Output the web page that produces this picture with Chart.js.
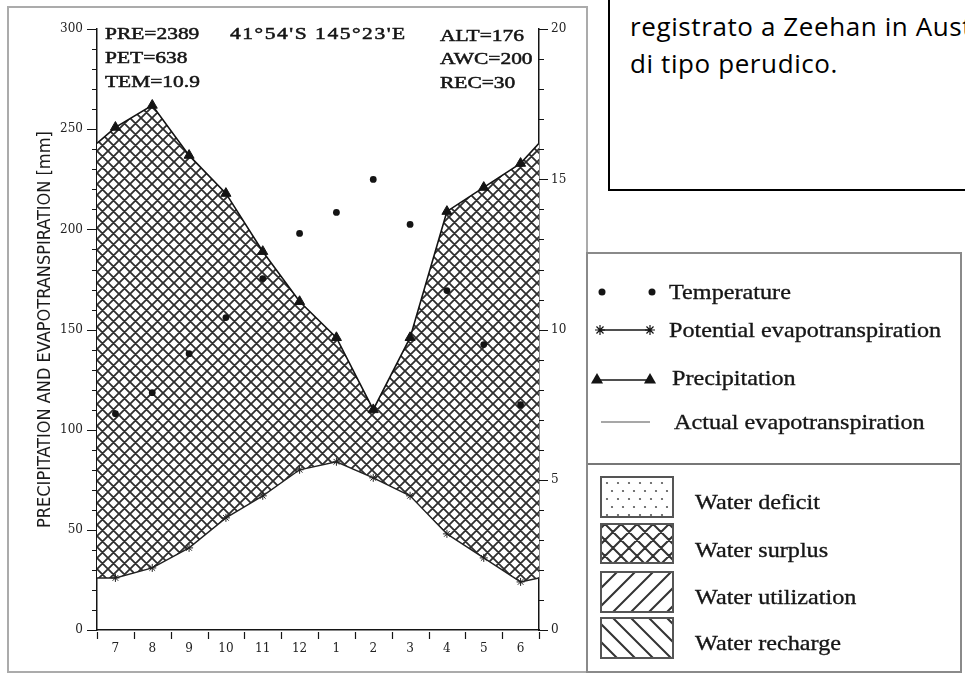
<!DOCTYPE html>
<html lang="it">
<head>
<meta charset="utf-8">
<title>Zeehan – diagramma climatico</title>
<script src="https://cdn.jsdelivr.net/npm/chart.js@4.4.1/dist/chart.umd.min.js"></script>
<style>
  html, body { margin: 0; padding: 0; }
  body { width: 965px; height: 674px; position: relative; overflow: hidden; background: #fff; }
  .frame { position: absolute; left: 7px; top: 6px; width: 581px; height: 667px; box-sizing: border-box; border: 2px solid #ababab; }
  #chartBox { position: absolute; left: 9px; top: 8px; width: 577px; height: 663px; }
  #chart { filter: blur(0.35px); }
  .note { position: absolute; height: 20px; line-height: 20px; white-space: nowrap;
          font-family: "Liberation Serif", "Times New Roman", serif; font-size: 16.5px; color: #151515;
          -webkit-text-stroke: 0.5px #151515; transform-origin: 0 50%; transform: scaleX(1.3); }
  .textbox { position: absolute; left: 608px; top: -20px; width: 420px; height: 211px; box-sizing: border-box; border: 2px solid #000; }
  .tline { position: absolute; left: 630px; height: 40px; line-height: 40px; white-space: nowrap;
           font-family: "Open Sans", "Noto Sans", sans-serif; font-size: 26px; letter-spacing: 0.6px; color: #000; }
  .legend { position: absolute; left: 586px; top: 252px; width: 376px; height: 421px; box-sizing: border-box; border: 2px solid #8a8a8a; background: #fff; }
  .divider { position: absolute; left: 588px; top: 463px; width: 372px; height: 2px; background: #777; }
  #legendArt { position: absolute; left: 588px; top: 254px; filter: blur(0.3px); }
  .lg { position: absolute; height: 30px; line-height: 30px; white-space: nowrap;
        font-family: "Liberation Serif", "Times New Roman", serif; font-size: 22px; color: #161616;
        -webkit-text-stroke: 0.35px #161616; transform-origin: 0 50%; transform: scaleX(1.1); }
</style>
</head>
<body>
<div class="frame"></div>
<div id="chartBox"><canvas id="chart" width="577" height="663"></canvas></div>

<div class="note" style="left:105px; top:24px;">PRE=2389</div>
<div class="note" style="left:105px; top:48px;">PET=638</div>
<div class="note" style="left:105px; top:72px;">TEM=10.9</div>
<div class="note" style="left:230px; top:24px; letter-spacing:1.2px;">41°54'S 145°23'E</div>
<div class="note" style="left:440px; top:26px;">ALT=176</div>
<div class="note" style="left:440px; top:49px;">AWC=200</div>
<div class="note" style="left:440px; top:73px;">REC=30</div>

<div class="textbox"></div>
<div class="tline" style="top:6px;">registrato a Zeehan in Australia</div>
<div class="tline" style="top:43px;">di tipo perudico.</div>

<div class="legend"></div>
<div class="divider"></div>
<canvas id="legendArt" width="372" height="417"></canvas>
<div class="lg" style="left:669px; top:277px;">Temperature</div>
<div class="lg" style="left:669px; top:315px;">Potential evapotranspiration</div>
<div class="lg" style="left:672px; top:363px;">Precipitation</div>
<div class="lg" style="left:674px; top:407px;">Actual evapotranspiration</div>
<div class="lg" style="left:695px; top:487px;">Water deficit</div>
<div class="lg" style="left:695px; top:535px;">Water surplus</div>
<div class="lg" style="left:695px; top:582px;">Water utilization</div>
<div class="lg" style="left:695px; top:628px;">Water recharge</div>

<script>
// Monthly climate record, July to June (southern-hemisphere year)
const months = ['7', '8', '9', '10', '11', '12', '1', '2', '3', '4', '5', '6'];
const precipitation = [251, 262, 237, 218, 189, 164, 146, 110, 146, 209, 221, 233];   // mm
const potentialEvapo = [26, 31, 41, 56, 67, 80, 84, 76, 67, 48, 36, 24];              // mm
const temperature = [7.2, 7.9, 9.2, 10.4, 11.7, 13.2, 13.9, 15.0, 13.5, 11.3, 9.5, 7.5]; // °C
// values where the June→July segment crosses the left and right frame
const precipitationAtEdge = 243;
const potentialEvapoAtEdge = 26;
// labelled ticks
const mmTickLabels = [0, 50, 100, 150, 200, 250, 300];
const tempTickLabels = [0, 5, 10, 15, 20];

const INK = '#141414';
const SERIF_TICKS = '"DejaVu Serif", "Liberation Serif", serif';

function crossHatchTile(period, width, color) {
  const c = document.createElement('canvas');
  c.width = c.height = period;
  const g = c.getContext('2d');
  g.fillStyle = '#fff';
  g.fillRect(0, 0, period, period);
  g.strokeStyle = color;
  g.lineWidth = width;
  g.beginPath();
  for (let k = -1; k <= 1; k++) {
    g.moveTo(k * period, 0); g.lineTo(k * period + period, period);
    g.moveTo(k * period + period, 0); g.lineTo(k * period, period);
  }
  g.stroke();
  return c;
}

const firstX = 0.5, lastX = months.length + 0.5;
function monthSeries(values) { return values.map((v, i) => ({ x: i + 1, y: v })); }
function wrapped(values, edge) {
  return [{ x: firstX, y: edge }, ...monthSeries(values), { x: lastX, y: edge }];
}
const isEdge = c => c.raw && (c.raw.x === firstX || c.raw.x === lastX);

// short tick marks: long ones at labelled values, short ones between
const axisTicks = {
  id: 'axisTicks',
  afterDraw(chart) {
    const { ctx, chartArea: { left, right, bottom } } = chart;
    const { x, y, yT } = chart.scales;
    ctx.save();
    ctx.strokeStyle = INK;
    ctx.lineWidth = 1.2;
    ctx.beginPath();
    y.ticks.forEach(t => {
      const py = Math.round(y.getPixelForValue(t.value)) + 0.5;
      const len = mmTickLabels.includes(t.value) ? 10 : 5;
      ctx.moveTo(left - len, py); ctx.lineTo(left, py);
    });
    yT.ticks.forEach(t => {
      const py = Math.round(yT.getPixelForValue(t.value)) + 0.5;
      const len = tempTickLabels.includes(t.value) ? 9 : 5;
      ctx.moveTo(right, py); ctx.lineTo(right + len, py);
    });
    x.ticks.forEach(t => {
      if (Number.isInteger(t.value)) return;
      const px = Math.round(x.getPixelForValue(t.value)) + 0.5;
      ctx.moveTo(px, bottom + 2); ctx.lineTo(px, bottom + 9);
    });
    // the base line runs a little past the left axis
    ctx.moveTo(left - 6, bottom + 0.5); ctx.lineTo(left, bottom + 0.5);
    ctx.stroke();
    ctx.restore();
  }
};

const chartCanvas = document.getElementById('chart');
const cctx = chartCanvas.getContext('2d');
const surplusHatch = cctx.createPattern(crossHatchTile(11, 1.8, '#2e2e2e'), 'repeat');

new Chart(cctx, {
  type: 'line',
  data: {
    datasets: [
      {
        label: 'Precipitation',
        data: wrapped(precipitation, precipitationAtEdge),
        yAxisID: 'y',
        borderColor: INK,
        borderWidth: 1.6,
        tension: 0,
        pointStyle: 'triangle',
        pointRadius: c => isEdge(c) ? 0 : 5.8,
        pointBackgroundColor: INK,
        pointBorderColor: INK,
        pointBorderWidth: 1,
        fill: { target: 1 },
        backgroundColor: surplusHatch,
        order: 1
      },
      {
        label: 'Potential evapotranspiration',
        data: wrapped(potentialEvapo, potentialEvapoAtEdge),
        yAxisID: 'y',
        borderColor: '#222',
        borderWidth: 1.4,
        tension: 0,
        pointStyle: 'star',
        pointRadius: c => isEdge(c) ? 0 : 4,
        pointBorderColor: '#222',
        pointBorderWidth: 1,
        fill: false,
        order: 0
      },
      {
        label: 'Temperature',
        data: monthSeries(temperature),
        yAxisID: 'yT',
        showLine: false,
        pointStyle: 'circle',
        pointRadius: 3.4,
        pointBackgroundColor: INK,
        pointBorderColor: INK,
        pointBorderWidth: 0,
        fill: false,
        order: -1
      }
    ]
  },
  options: {
    responsive: false,
    animation: false,
    events: [],
    layout: { padding: { top: 19, left: 0, right: 0, bottom: 0 } },
    plugins: { legend: { display: false }, tooltip: { enabled: false } },
    scales: {
      x: {
        type: 'linear',
        min: firstX,
        max: lastX,
        grid: { display: false, drawTicks: false },
        border: { display: true, color: INK, width: 1.5 },
        ticks: {
          stepSize: 0.5,
          autoSkip: false,
          maxRotation: 0,
          padding: 12,
          color: '#222',
          font: { family: SERIF_TICKS, size: 12 },
          callback: v => Number.isInteger(v) ? months[v - 1] : ''
        },
        afterFit: s => { s.height = 41; }
      },
      y: {
        position: 'left',
        min: 0,
        max: 300,
        grid: { display: false, drawTicks: false },
        border: { display: true, color: INK, width: 1.5 },
        ticks: {
          stepSize: 10,
          autoSkip: false,
          padding: 14,
          color: '#222',
          font: { family: SERIF_TICKS, size: 12 },
          callback: v => mmTickLabels.includes(v) ? String(v) : ''
        },
        title: {
          display: true,
          text: 'PRECIPITATION AND EVAPOTRANSPIRATION [mm]',
          color: '#1a1a1a',
          font: { family: '"Liberation Sans Narrow", "DejaVu Sans Condensed", "Liberation Sans", sans-serif', size: 18 },
          padding: { top: 26, bottom: 0 }
        },
        afterFit: s => { s.width = 88; }
      },
      yT: {
        position: 'right',
        min: 0,
        max: 20,
        grid: { display: false, drawTicks: false },
        border: { display: true, color: INK, width: 1.5 },
        ticks: {
          stepSize: 1,
          autoSkip: false,
          padding: 12,
          color: '#222',
          font: { family: SERIF_TICKS, size: 12 },
          callback: v => tempTickLabels.includes(v) ? String(v) : ''
        },
        afterFit: s => { s.width = 47; }
      }
    }
  },
  plugins: [axisTicks]
});

// legend symbols and swatches
(function drawLegendArt() {
  const cv = document.getElementById('legendArt');
  const g = cv.getContext('2d');
  const ox = 588, oy = 254;
  const X = v => v - ox, Y = v => v - oy;

  function dot(x, y, r) { g.beginPath(); g.arc(X(x), Y(y), r, 0, Math.PI * 2); g.fillStyle = INK; g.fill(); }
  function tri(x, y, r) {
    g.beginPath();
    g.moveTo(X(x), Y(y) - r);
    g.lineTo(X(x) + r * 0.866, Y(y) + r * 0.5);
    g.lineTo(X(x) - r * 0.866, Y(y) + r * 0.5);
    g.closePath(); g.fillStyle = INK; g.fill();
  }
  function star(x, y, r) {
    g.beginPath();
    for (let a = 0; a < 4; a++) {
      const ang = a * Math.PI / 4;
      g.moveTo(X(x) - Math.cos(ang) * r, Y(y) - Math.sin(ang) * r);
      g.lineTo(X(x) + Math.cos(ang) * r, Y(y) + Math.sin(ang) * r);
    }
    g.strokeStyle = INK; g.lineWidth = 1.2; g.stroke();
  }
  function hline(x1, x2, y, color, w) {
    g.beginPath(); g.moveTo(X(x1), Y(y)); g.lineTo(X(x2), Y(y));
    g.strokeStyle = color; g.lineWidth = w; g.stroke();
  }

  dot(602, 292, 3.5); dot(652, 292, 3.5);
  hline(600, 650, 330, INK, 1.4); star(600, 330, 5); star(650, 330, 5);
  hline(597, 650, 380, INK, 1.6); tri(597, 380, 7); tri(650, 380, 7);
  hline(601, 650, 422, '#8a8a8a', 1.6);

  function swatch(y1, y2, paint) {
    const x1 = X(601), w = 72, h = y2 - y1;
    g.save();
    g.beginPath(); g.rect(x1, Y(y1), w, h); g.clip();
    g.fillStyle = '#fff'; g.fillRect(x1, Y(y1), w, h);
    paint(x1, Y(y1), w, h);
    g.restore();
    g.strokeStyle = '#555'; g.lineWidth = 2;
    g.strokeRect(x1, Y(y1), w, h);
  }
  // water deficit: dots
  swatch(477, 517, (x, y, w, h) => {
    g.fillStyle = '#555';
    for (let r = 0, yy = y + 6; yy < y + h; yy += 8, r++) {
      for (let xx = x + 6 + (r % 2) * 5; xx < x + w; xx += 11) {
        g.beginPath(); g.arc(xx, yy, 1.1, 0, Math.PI * 2); g.fill();
      }
    }
  });
  // water surplus: coarse cross-hatch
  swatch(524, 563, (x, y, w, h) => {
    g.strokeStyle = '#333'; g.lineWidth = 2; g.beginPath();
    for (let k = -60; k < w + 60; k += 16) {
      g.moveTo(x + k, y); g.lineTo(x + k + h, y + h);
      g.moveTo(x + k, y); g.lineTo(x + k - h, y + h);
    }
    g.stroke();
  });
  // water utilization: forward diagonals
  swatch(572, 612, (x, y, w, h) => {
    g.strokeStyle = '#333'; g.lineWidth = 2; g.beginPath();
    for (let k = -60; k < w + 60; k += 18) { g.moveTo(x + k, y + h); g.lineTo(x + k + h, y); }
    g.stroke();
  });
  // water recharge: backward diagonals
  swatch(618, 658, (x, y, w, h) => {
    g.strokeStyle = '#333'; g.lineWidth = 2; g.beginPath();
    for (let k = -60; k < w + 60; k += 18) { g.moveTo(x + k, y); g.lineTo(x + k + h, y + h); }
    g.stroke();
  });
})();
</script>
</body>
</html>
